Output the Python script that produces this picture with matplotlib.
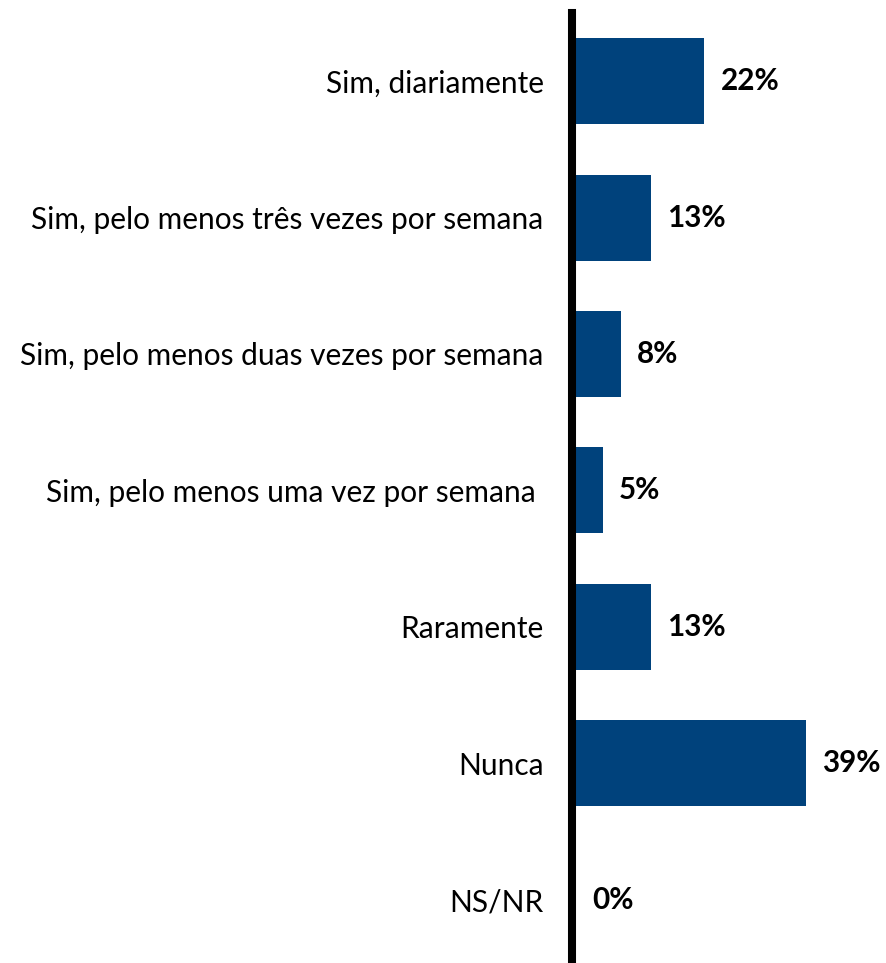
import matplotlib
matplotlib.use("Agg")
import matplotlib.pyplot as plt

categories = [
    "Sim, diariamente",
    "Sim, pelo menos três vezes por semana",
    "Sim, pelo menos duas vezes por semana",
    "Sim, pelo menos uma vez por semana ",
    "Raramente",
    "Nunca",
    "NS/NR",
]
values = [21.8, 12.7, 7.6, 4.6, 12.7, 39.0, 0.0]
value_labels = ["22%", "13%", "8%", "5%", "13%", "39%", "0%"]

plt.rcParams['font.family'] = ['Lato', 'DejaVu Sans']

fig = plt.figure(figsize=(8.87, 9.63), dpi=100)
ax = fig.add_axes([572 / 887, 0.0, 1 - 572 / 887, (963 - 13) / 963])

ypos = list(range(len(categories)))
ax.barh(ypos, values, height=0.63, color="#00427C", left=0)
ax.set_xlim(-0.68, 52.8)
ax.set_ylim(len(categories) - 0.535, -0.5)

for y, v, lab in zip(ypos, values, value_labels):
    ax.annotate(lab, xy=(v, y), xytext=(11.5, 0), textcoords="offset points",
                ha="left", va="center", fontsize=21.3, fontweight="bold", color="#000000")

ax.set_yticks(ypos)
ax.set_yticklabels(categories, fontsize=21.5, color="#000000")
ax.tick_params(axis="y", length=0, pad=20.5)
ax.set_xticks([])

for s in ["top", "right", "bottom"]:
    ax.spines[s].set_visible(False)
ax.spines["left"].set_linewidth(5.8)
ax.spines["left"].set_color("black")

fig.savefig("out.png", dpi=100)
